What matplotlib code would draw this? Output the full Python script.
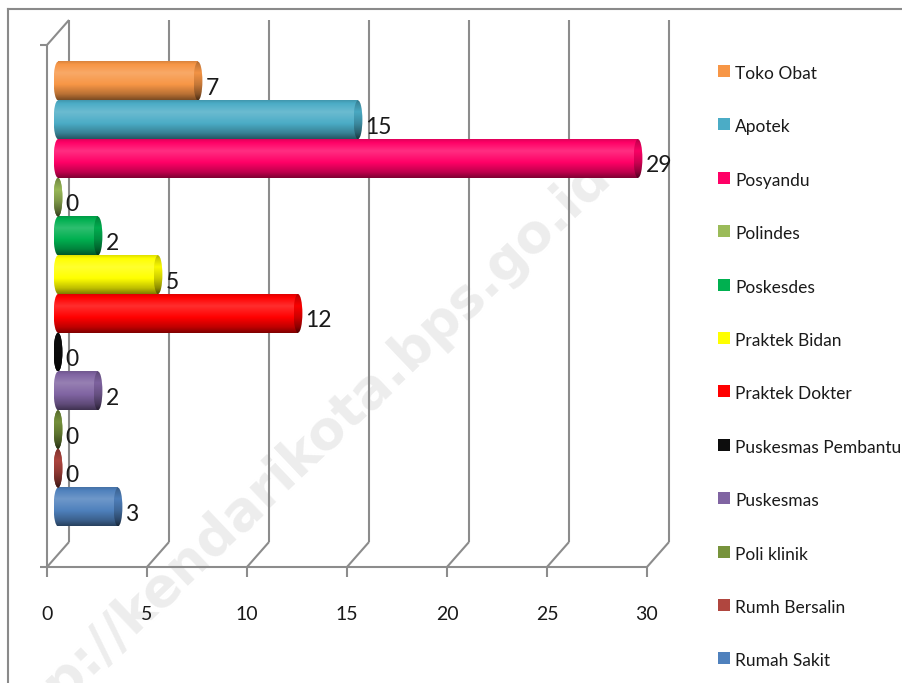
import numpy as np
import matplotlib
matplotlib.use('Agg')
import matplotlib.pyplot as plt
from matplotlib.patches import Ellipse, Rectangle
from matplotlib.lines import Line2D
from matplotlib.colors import to_rgb

# data, bottom to top as drawn
categories = ['Rumah Sakit', 'Rumh Bersalin', 'Poli klinik', 'Puskesmas', 'Puskesmas Pembantu',
              'Praktek Dokter', 'Praktek Bidan', 'Poskesdes', 'Polindes', 'Posyandu', 'Apotek', 'Toko Obat']
values = [3, 0, 0, 2, 0, 12, 5, 2, 0, 29, 15, 7]
colors = ['#4F81BD', '#B0463F', '#77933C', '#8064A2', '#0D0D0D', '#FF0000',
          '#FFFF00', '#00B050', '#9BBB59', '#FF0066', '#4BACC6', '#F79646']
xticks = [0, 5, 10, 15, 20, 25, 30]

W, H, DPI = 903, 683, 100
FONT = ['Lato', 'DejaVu Sans']
GRID = '#8c8c8c'

fig = plt.figure(figsize=(W / DPI, H / DPI), dpi=DPI)
fig.patch.set_facecolor('white')

def fx(x):
    return x / W

def fy(y):
    return 1 - y / H

# outer frame of the chart area
fig.add_artist(Line2D([fx(8), fx(8)], [fy(9), fy(683)], color='#8a8a8a', lw=1.5))
fig.add_artist(Line2D([fx(8), fx(903)], [fy(9), fy(9)], color='#8a8a8a', lw=1.5))

# watermark
fig.text(fx(295), fy(460), 'http://kendarikota.bps.go.id', rotation=43.5, rotation_mode='anchor',
         ha='center', va='center', fontsize=38.5, fontweight='bold', color='#ededed',
         family='DejaVu Sans', zorder=-1)

# axes = middle depth plane of the 3d box
ax = fig.add_axes([fx(58), fy(554.5), 600 / W, 522 / H])
ax.set_facecolor('none')
ax.axis('off')
ax.set_autoscale_on(False)
ax.set_xlim(0, 30)
y0, y1 = -1.227, 12.253
ax.set_ylim(y0, y1)

ux = 30 / 600            # data units per pixel, x
uy = (y1 - y0) / 522     # data units per pixel, y
dx, dy = 11 * ux, 12.5 * uy  # half depth offset

def line(xs, ys, **kw):
    ax.plot(xs, ys, color=GRID, lw=1.5, clip_on=False, solid_capstyle='butt', zorder=1, **kw)

for t in xticks:
    line([t + dx, t + dx], [y0 + dy, y1 + dy])
    line([t - dx, t + dx], [y0 - dy, y0 + dy])
    line([t - dx, t - dx], [y0 - dy, y0 - dy - 10 * uy])
    ax.text(t - dx, y0 - dy - 48 * uy, str(t), ha='center', va='center',
            fontsize=14, family=FONT, color='#1a1a1a')
line([-dx, -dx], [y0 - dy, y1 - dy])
line([-dx, dx], [y1 - dy, y1 + dy])
line([-dx - 7 * ux, -dx], [y1 - dy, y1 - dy])
line([-dx - 7 * ux, 30 - dx], [y0 - dy, y0 - dy])


def shade(c, offset=0.0, n=80):
    t = np.linspace(0, 1, n)
    k = np.interp(t, [0, 0.08, 0.3, 0.6, 0.85, 1.0],
                  [-0.12, 0.0, 0.18, 0.0, -0.25, -0.5]) + offset
    rgb = np.array(to_rgb(c))
    out = np.where(k[:, None] > 0, rgb + (1 - rgb) * k[:, None], rgb * (1 + k[:, None]))
    return np.clip(out, 0, 1)[:, None, :]


def gradient(img, extent, clip=None, z=2):
    im = ax.imshow(img, extent=extent, aspect='auto', interpolation='bilinear', zorder=z)
    if clip is not None:
        ax.add_patch(clip)
        im.set_clip_box(fig.bbox)
        im.set_clip_path(clip)
    return im


rx = 4.4 * ux
for i, (v, c) in enumerate(zip(values, colors)):
    body = shade(c)
    left = Ellipse((0, i), 2 * rx, 1.0, facecolor='none', edgecolor='none')
    gradient(body, (-rx, rx, i - 0.5, i + 0.5), left)
    if v > 0:
        gradient(body, (0, v, i - 0.5, i + 0.5))
    cap = Ellipse((v, i), 2 * rx, 1.0, facecolor='none', edgecolor='none')
    gradient(shade(c, -0.2), (v - rx, v + rx, i - 0.5, i + 0.5), cap, z=3)
    ax.text(v + rx + 3 * ux, i - 14 * uy, str(v), ha='left', va='baseline',
            fontsize=16.5, family=FONT, color='#1a1a1a', zorder=4)

ax.set_xlim(0, 30)
ax.set_ylim(y0, y1)

# legend, top to bottom
for j, (name, c) in enumerate(zip(categories[::-1], colors[::-1])):
    yc = 71 + j * 53.4
    fig.add_artist(Rectangle((fx(718), fy(yc + 6)), 12 / W, 12 / H,
                             transform=fig.transFigure, facecolor=c, edgecolor='none'))
    fig.text(fx(735), fy(yc + 8), name, ha='left', va='baseline',
             fontsize=12.5, family=FONT, color='#1a1a1a')

fig.savefig('out.png', dpi=DPI)
